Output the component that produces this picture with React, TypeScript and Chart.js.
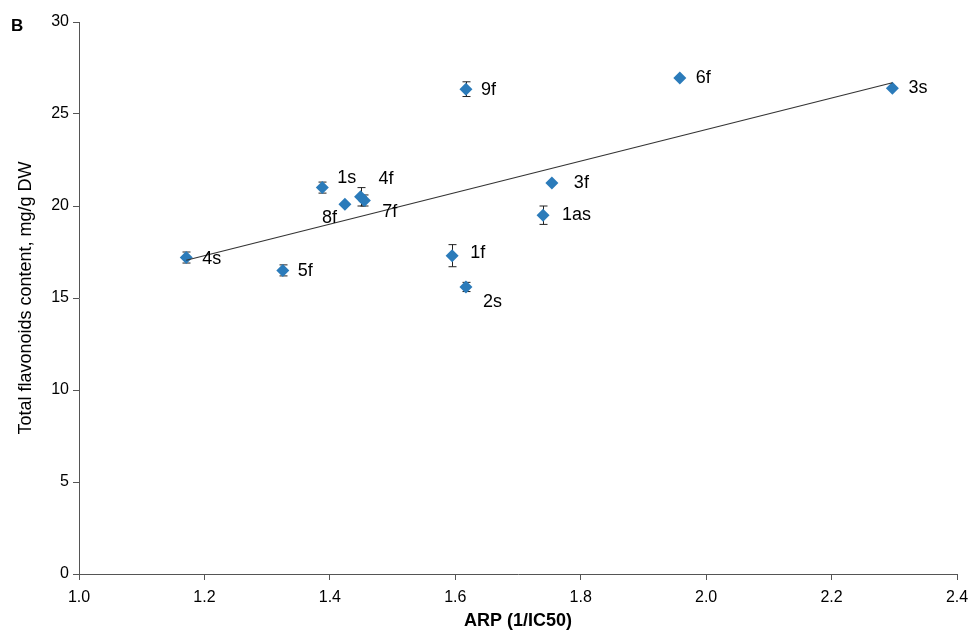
import React, { useEffect, useRef } from "react";
import { Chart, registerables } from "chart.js";

Chart.register(...registerables);

const sampleLabels = ["4s", "5f", "1s", "8f", "4f", "7f", "9f", "2s", "1f", "1as", "3f", "6f", "3s"];
const arpValues = [1.171, 1.325, 1.388, 1.424, 1.449, 1.455, 1.617, 1.617, 1.595, 1.74, 1.754, 1.958, 2.297];
const flavonoidValues = [17.2, 16.5, 21.0, 20.1, 20.5, 20.3, 26.35, 15.6, 17.3, 19.5, 21.25, 26.95, 26.4];
const errorValues = [0.3, 0.3, 0.3, 0, 0.5, 0.3, 0.4, 0.25, 0.6, 0.5, 0, 0, 0];
const trendX = [1.171, 2.297];
const trendY = [17.05, 26.7];
const xTicks = [1.0, 1.2, 1.4, 1.6, 1.8, 2.0, 2.2, 2.4];

// label placement offsets (pixels) relative to each point
const labelOffsets: [number, number][] = [
  [16, 2], [15, 1], [15, -10], [-23, 14], [18, -18], [18, 12], [15, 1],
  [17, 15], [18, -3], [19, 0], [22, 0], [16, 0], [16, 0],
];

const FONT = "'Liberation Sans', Arial, sans-serif";

export default function App() {
  const ref = useRef<HTMLCanvasElement | null>(null);

  useEffect(() => {
    document.body.style.margin = "0";
    const canvas = ref.current;
    if (!canvas) return;

    const points = arpValues.map((x, i) => ({ x, y: flavonoidValues[i] }));
    const trend = trendX.map((x, i) => ({ x, y: trendY[i] }));

    const errorBars = {
      id: "errorBars",
      beforeDatasetsDraw(chart: any) {
        const ctx = chart.ctx;
        const xs = chart.scales.x;
        const ys = chart.scales.y;
        ctx.save();
        ctx.strokeStyle = "#222";
        ctx.lineWidth = 1;
        arpValues.forEach((x, i) => {
          const e = errorValues[i];
          if (!e) return;
          const px = Math.round(xs.getPixelForValue(x)) + 0.5;
          const top = ys.getPixelForValue(flavonoidValues[i] + e);
          const bot = ys.getPixelForValue(flavonoidValues[i] - e);
          ctx.beginPath();
          ctx.moveTo(px, top);
          ctx.lineTo(px, bot);
          ctx.moveTo(px - 4, top);
          ctx.lineTo(px + 4, top);
          ctx.moveTo(px - 4, bot);
          ctx.lineTo(px + 4, bot);
          ctx.stroke();
        });
        ctx.restore();
      },
    };

    const pointLabels = {
      id: "pointLabels",
      afterDatasetsDraw(chart: any) {
        const ctx = chart.ctx;
        const xs = chart.scales.x;
        const ys = chart.scales.y;
        ctx.save();
        ctx.fillStyle = "#000";
        ctx.font = `18px ${FONT}`;
        ctx.textAlign = "left";
        ctx.textBaseline = "middle";
        sampleLabels.forEach((lab, i) => {
          const px = xs.getPixelForValue(arpValues[i]);
          const py = ys.getPixelForValue(flavonoidValues[i]);
          const [dx, dy] = labelOffsets[i];
          ctx.fillText(lab, px + dx, py + dy);
        });
        ctx.font = `bold 17px ${FONT}`;
        ctx.fillText("B", 11, 26);
        ctx.restore();
      },
    };

    const chart = new Chart(canvas, {
      type: "scatter",
      data: {
        datasets: [
          {
            type: "line",
            data: trend,
            borderColor: "#333",
            borderWidth: 1.2,
            pointRadius: 0,
            fill: false,
          } as any,
          {
            data: points,
            pointStyle: "rectRot",
            pointRadius: 6.5,
            backgroundColor: "#2B7BBA",
            borderColor: "#2B7BBA",
            borderWidth: 0,
          },
        ],
      },
      plugins: [errorBars, pointLabels],
      options: {
        responsive: false,
        animation: false,
        layout: { padding: { top: 22, right: 14, left: 0, bottom: 0 } },
        plugins: { legend: { display: false }, tooltip: { enabled: false } },
        scales: {
          x: {
            type: "linear",
            min: 1.0,
            max: 2.4,
            afterBuildTicks: (scale: any) => {
              scale.ticks = xTicks.map((v) => ({ value: v }));
            },
            afterFit: (scale: any) => {
              scale.height = 58;
              scale.paddingLeft = 0;
              scale.paddingRight = 0;
            },
            ticks: {
              color: "#000",
              font: { family: FONT, size: 16 },
              padding: 8,
              callback: (v: any) => Number(v).toFixed(1),
              maxRotation: 0,
            },
            grid: { drawOnChartArea: false, drawTicks: true, tickLength: 6, color: "#555" },
            border: { color: "#555", width: 1 },
            title: {
              display: true,
              text: "ARP (1/IC50)",
              color: "#000",
              font: { family: FONT, size: 18, weight: "bold" },
              padding: { top: 0, bottom: 0 },
            },
          },
          y: {
            min: 0,
            max: 30,
            ticks: {
              stepSize: 5,
              color: "#000",
              font: { family: FONT, size: 16 },
              padding: 4,
            },
            afterFit: (scale: any) => {
              scale.width = 79;
            },
            grid: { drawOnChartArea: false, drawTicks: true, tickLength: 6, color: "#555" },
            border: { color: "#555", width: 1 },
            title: {
              display: true,
              text: "Total flavonoids content, mg/g DW",
              color: "#000",
              font: { family: FONT, size: 18 },
              padding: { top: 15, bottom: 0 },
            },
          },
        },
      } as any,
    });

    return () => chart.destroy();
  }, []);

  return (
    <div style={{ width: 971, height: 632 }}>
      <canvas ref={ref} width={971} height={632} />
    </div>
  );
}
